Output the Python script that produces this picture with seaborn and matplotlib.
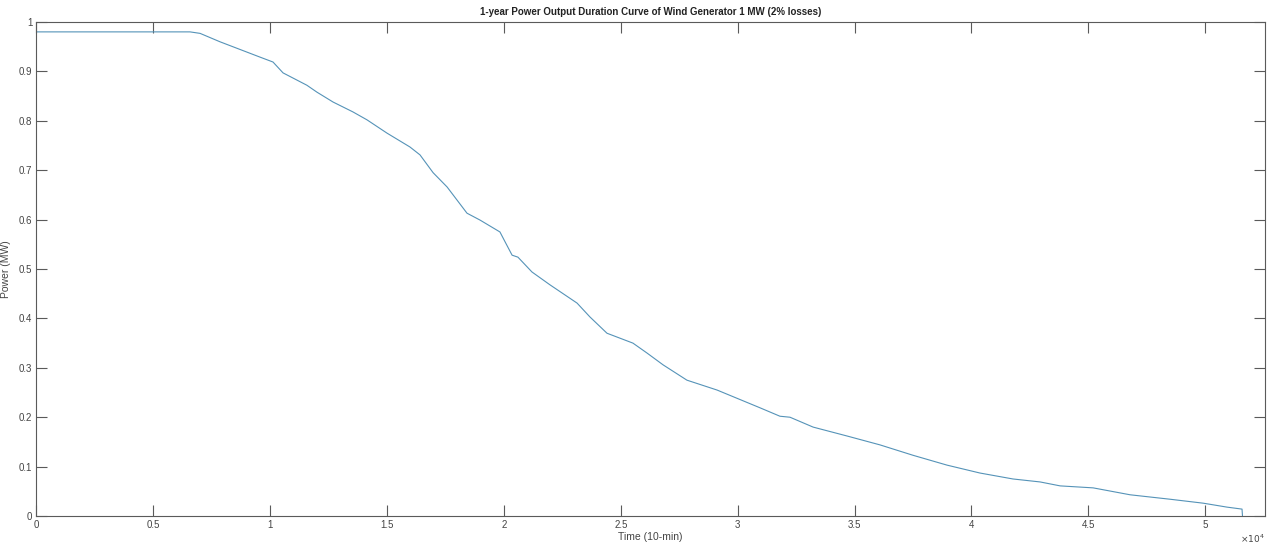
import numpy as np
import pandas as pd
import matplotlib
matplotlib.use("Agg")
import matplotlib.pyplot as plt
import seaborn as sns

# Data (time in 10-min steps, power in MW)
time_steps = [0, 6570, 7000, 7850, 9560, 10120, 10550, 11570, 12000, 12690, 13540,
              14140, 15000, 15980, 16410, 16970, 17570, 18420, 18980, 19830, 20050,
              20350, 20600, 21200, 21970, 23130, 23680, 24410, 25520, 26120, 26810,
              27830, 29120, 30960, 31810, 32240, 33230, 34680, 36090, 37500, 38960,
              40370, 41780, 42940, 43800, 45210, 46790, 48500, 49920, 50940, 51580,
              51600]
power_mw = [0.980, 0.980, 0.977, 0.960, 0.929, 0.919, 0.897, 0.872, 0.858, 0.838, 0.818,
            0.802, 0.775, 0.747, 0.731, 0.695, 0.666, 0.613, 0.599, 0.575, 0.555,
            0.528, 0.524, 0.494, 0.468, 0.431, 0.403, 0.370, 0.350, 0.330, 0.306,
            0.275, 0.255, 0.219, 0.202, 0.200, 0.180, 0.162, 0.144, 0.123, 0.103,
            0.087, 0.075, 0.069, 0.061, 0.057, 0.043, 0.034, 0.026, 0.018, 0.014,
            0.0]
x_ticks = [0, 5000, 10000, 15000, 20000, 25000, 30000, 35000, 40000, 45000, 50000]
x_tick_labels = ["0", "0.5", "1", "1.5", "2", "2.5", "3", "3.5", "4", "4.5", "5"]
y_ticks = [0, 0.1, 0.2, 0.3, 0.4, 0.5, 0.6, 0.7, 0.8, 0.9, 1.0]
y_tick_labels = ["0", "0.1", "0.2", "0.3", "0.4", "0.5", "0.6", "0.7", "0.8", "0.9", "1"]

df = pd.DataFrame({"time": time_steps, "power": power_mw})

sns.set_style("white")
plt.rcParams["font.family"] = ["Liberation Sans", "DejaVu Sans"]

fig = plt.figure(figsize=(12.75, 5.46), dpi=100)
ax = fig.add_axes([0.0286, 0.0549, 0.9635, 0.9048])

sns.lineplot(data=df, x="time", y="power", ax=ax, color="#5593b8",
             linewidth=0.8, sort=False, estimator=None)

ax.set_xlim(0, 52560)
ax.set_ylim(0, 1)
ax.set_xticks(x_ticks)
ax.set_xticklabels(x_tick_labels)
ax.set_yticks(y_ticks)
ax.set_yticklabels(y_tick_labels)

spine_col = "#5a5a5a"
for s in ax.spines.values():
    s.set_visible(True)
    s.set_color(spine_col)
    s.set_linewidth(0.8)
ax.tick_params(direction="in", length=8, width=0.8, color=spine_col,
               labelcolor="#444444", labelsize=7, top=True, right=True,
               bottom=True, left=True, pad=3)

ax.set_xlabel("Time (10-min)", fontsize=7.5, color="#444444", labelpad=1)
ax.set_ylabel("Power (MW)", fontsize=7.5, color="#444444")
ax.yaxis.set_label_coords(-0.021, 0.5)
ax.set_title("1-year Power Output Duration Curve of Wind Generator 1 MW (2% losses)",
             fontsize=7, fontweight="bold", color="#222222", pad=5)
ax.text(1.0, -0.047, r"$\times10^4$", transform=ax.transAxes, ha="right", va="center",
        fontsize=6.5, color="#444444")

fig.savefig("out.png", dpi=100)
